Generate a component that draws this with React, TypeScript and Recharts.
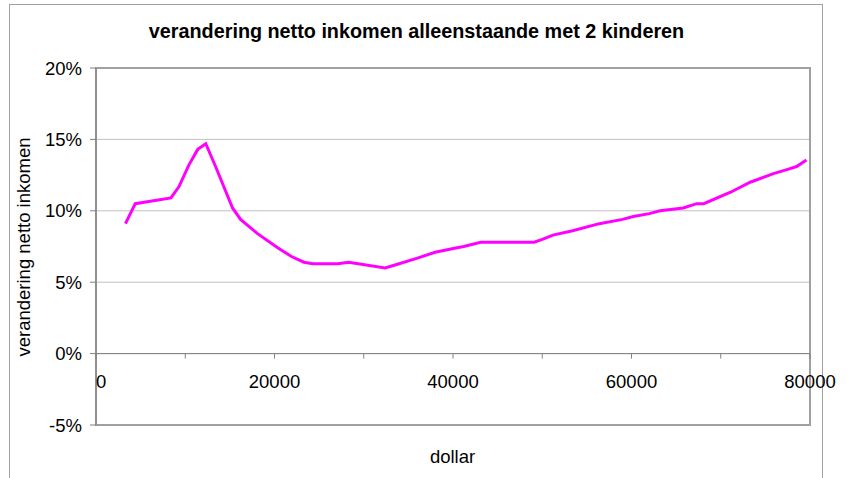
import {
  CartesianGrid,
  Line,
  LineChart,
  ReferenceArea,
  ReferenceLine,
  XAxis,
  YAxis,
} from "recharts";

// income in dollars, change in net income in percent
const incomes = [
  3300, 4400, 8400, 9300, 10400, 11400, 12300, 13400, 15300, 16200, 18100,
  20400, 21900, 23300, 24300, 27100, 28300, 32400, 33500, 36100, 38000, 40300,
  41200, 43100, 49100, 50000, 51200, 53400, 56400, 59000, 60200, 62000, 63200,
  65800, 67300, 68100, 71100, 73300, 75900, 77500, 78500, 79600,
];
const changes = [
  9.1, 10.5, 10.9, 11.7, 13.2, 14.3, 14.7, 13.1, 10.2, 9.4, 8.4, 7.4, 6.8,
  6.4, 6.3, 6.3, 6.4, 6.0, 6.2, 6.7, 7.1, 7.4, 7.5, 7.8, 7.8, 8.0, 8.3, 8.6,
  9.1, 9.4, 9.6, 9.8, 10.0, 10.2, 10.5, 10.5, 11.3, 12.0, 12.6, 12.9, 13.1,
  13.55,
];
const xTicks = [0, 10000, 20000, 30000, 40000, 50000, 60000, 70000, 80000];
const yTicks = [-5, 0, 5, 10, 15, 20];

const title = "verandering netto inkomen alleenstaande met 2 kinderen";
const yTitle = "verandering netto inkomen";
const xTitle = "dollar";

const W = 847;
const H = 478;
const PLOT_TOP = 68;
const PLOT_BOTTOM = 425;
const X_AXIS_H = 30;
const Y_MIN = -5;
const Y_MAX = 20;
const ZERO_Y =
  PLOT_TOP + (Y_MAX / (Y_MAX - Y_MIN)) * (PLOT_BOTTOM - PLOT_TOP);

const FONT = "'Liberation Sans', Arial, sans-serif";

const data = incomes.map((x, i) => ({ x, y: changes[i] }));

function XTick(props: any) {
  const { x, payload } = props;
  const v = payload.value as number;
  return (
    <g>
      <line x1={x} x2={x} y1={ZERO_Y} y2={ZERO_Y + 5} stroke="#808080" />
      {v % 20000 === 0 && (
        <text
          x={x}
          y={ZERO_Y + 34}
          textAnchor={v === 0 ? "start" : "middle"}
          fontSize={18.5}
          fontFamily={FONT}
          fill="#000"
        >
          {v}
        </text>
      )}
    </g>
  );
}

export default function App() {
  return (
    <div style={{ position: "absolute", left: 0, top: 0, width: W, height: H, background: "#fff" }}>
      <div
        style={{
          position: "absolute",
          left: 9,
          top: 4,
          width: 814,
          height: 500,
          boxSizing: "border-box",
          border: "1px solid #a0a0a0",
        }}
      />
      <LineChart
        width={W}
        height={H}
        data={data}
        margin={{ top: PLOT_TOP, right: 37, bottom: H - PLOT_BOTTOM - X_AXIS_H, left: 0 }}
        style={{ position: "absolute", left: 0, top: 0 }}
      >
        <CartesianGrid vertical={false} stroke="#c0c0c0" />
        <ReferenceArea
          x1={0}
          x2={80000}
          y1={Y_MIN}
          y2={Y_MAX}
          fill="none"
          stroke="#a0a0a0"
          strokeWidth={2}
        />
        <XAxis
          type="number"
          dataKey="x"
          domain={[0, 80000]}
          ticks={xTicks}
          interval={0}
          height={X_AXIS_H}
          axisLine={false}
          tickLine={false}
          tick={(p: any) => <XTick {...p} />}
        />
        <YAxis
          type="number"
          domain={[Y_MIN, Y_MAX]}
          ticks={yTicks}
          interval={0}
          width={96}
          tickSize={6}
          tickMargin={8}
          axisLine={{ stroke: "#808080" }}
          tickLine={{ stroke: "#808080" }}
          tickFormatter={(v: number) => `${v}%`}
          tick={{ fontSize: 18.5, fill: "#000", fontFamily: FONT }}
        />
        <ReferenceLine y={0} stroke="#808080" />
        <Line
          type="linear"
          dataKey="y"
          stroke="#ff00ff"
          strokeWidth={3}
          dot={false}
          isAnimationActive={false}
        />
      </LineChart>
      <svg
        width={W}
        height={H}
        style={{ position: "absolute", left: 0, top: 0, pointerEvents: "none" }}
      >
        <text
          x={416.5}
          y={38}
          textAnchor="middle"
          fontSize={19.8}
          fontWeight="bold"
          fontFamily={FONT}
          fill="#000"
        >
          {title}
        </text>
        <text
          transform="translate(30,247) rotate(-90)"
          textAnchor="middle"
          fontSize={18.5}
          fontFamily={FONT}
          fill="#000"
        >
          {yTitle}
        </text>
        <text
          x={452.5}
          y={463}
          textAnchor="middle"
          fontSize={18.5}
          fontFamily={FONT}
          fill="#000"
        >
          {xTitle}
        </text>
      </svg>
    </div>
  );
}
